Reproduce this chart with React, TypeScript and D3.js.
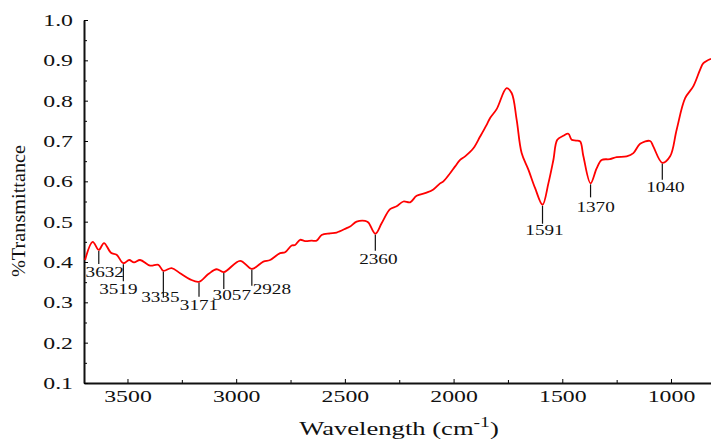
import React from 'react';
import * as d3 from "d3";

// spectrum (wavenumber cm-1 -> transmittance)
const wavenumbers = [
    3695, 3660, 3632, 3608, 3576, 3550, 3519, 3492, 3470, 3442, 3396, 3358, 3335, 3297, 3258,
    3212, 3171, 3128, 3090, 3057, 2982, 2928, 2875, 2844, 2798, 2775, 2745, 2729, 2706, 2683,
    2653, 2630, 2607, 2568, 2538, 2492, 2476, 2446, 2407, 2392, 2360, 2331, 2292, 2262, 2231,
    2200, 2170, 2124, 2093, 2062, 2047, 2016, 1993, 1970, 1947, 1909, 1878, 1848, 1832, 1802,
    1756, 1733, 1710, 1687, 1656, 1625, 1591, 1564, 1541, 1523, 1495, 1472, 1457, 1437, 1418,
    1403, 1370, 1342, 1319, 1281, 1250, 1204, 1173, 1142, 1096, 1081, 1040, 1004, 974, 935,
    897, 866, 851, 816
];
const transmittance = [
    0.405, 0.450, 0.430, 0.447, 0.423, 0.418, 0.397, 0.405, 0.399, 0.405, 0.391, 0.393, 0.378, 0.385, 0.372,
    0.357, 0.351, 0.370, 0.382, 0.375, 0.403, 0.383, 0.401, 0.405, 0.422, 0.424, 0.441, 0.442, 0.455, 0.452,
    0.453, 0.453, 0.467, 0.471, 0.473, 0.484, 0.488, 0.500, 0.502, 0.498, 0.470, 0.496, 0.531, 0.538, 0.550,
    0.548, 0.564, 0.572, 0.580, 0.595, 0.600, 0.620, 0.637, 0.653, 0.662, 0.682, 0.711, 0.740, 0.757, 0.779,
    0.831, 0.819, 0.753, 0.670, 0.629, 0.583, 0.542, 0.595, 0.653, 0.703, 0.713, 0.718, 0.703, 0.701, 0.699,
    0.662, 0.595, 0.632, 0.653, 0.655, 0.660, 0.662, 0.670, 0.693, 0.700, 0.686, 0.646, 0.662, 0.728, 0.806,
    0.836, 0.877, 0.893, 0.904
];

// labelled bands
const peakWavenumbers = [3632, 3519, 3335, 3171, 3057, 2928, 2360, 1591, 1370, 1040];
const peakValues = [0.430, 0.397, 0.378, 0.351, 0.375, 0.383, 0.470, 0.542, 0.595, 0.646];
const peakLabels = ["3632", "3519", "3335", "3171", "3057", "2928", "2360", "1591", "1370", "1040"];

// label layout (px): marker length, label shift x, label baseline below marker end
const peakLineLen = [13, 17, 26, 14, 16, 16, 16, 18, 13, 16];
const peakLabelDx = [6, -5, -3, 0, 8, 20, 3, 2, 5, 3];
const peakLabelDy = [13, 13, 4, 13, 11, 8, 13, 11, 15, 12];

const xMajorTicks = [3500, 3000, 2500, 2000, 1500, 1000];
const xMinorTicks = [3250, 2750, 2250, 1750, 1250];
const yMajorTicks = [0.1, 0.2, 0.3, 0.4, 0.5, 0.6, 0.7, 0.8, 0.9, 1.0];
const yMinorTicks = [0.15, 0.25, 0.35, 0.45, 0.55, 0.65, 0.75, 0.85, 0.95];

const FONT = "'Liberation Serif', 'Times New Roman', serif";
const STRETCH = 1.4; // the original type is drawn wide

class App extends React.Component {
    componentDidMount(): void {
        document.body.style.margin = "0";

        const width = 711;
        const height = 439;
        const left = 84, right = 711, top = 20, bottom = 383;

        const svg = d3.select("#ftir-chart")
            .append("svg")
            .attr("width", width)
            .attr("height", height)
            .style("display", "block")
            .style("background", "#fff");

        const xScale = d3.scaleLinear().domain([3700, 816]).range([left, right]);
        const yScale = d3.scaleLinear().domain([0.1, 1.0]).range([bottom, top]);

        //minor ticks
        svg.append("g")
            .attr("transform", "translate(0," + bottom + ")")
            .call(d3.axisBottom(xScale).tickValues(xMinorTicks).tickFormat(() => "").tickSize(-3).tickSizeOuter(0))
            .call((g: any) => g.select(".domain").remove());
        svg.append("g")
            .attr("transform", "translate(" + left + ",0)")
            .call(d3.axisLeft(yScale).tickValues(yMinorTicks).tickFormat(() => "").tickSize(-3).tickSizeOuter(0))
            .call((g: any) => g.select(".domain").remove());

        //major axes
        const xAxis = svg.append("g")
            .attr("transform", "translate(0," + bottom + ")")
            .call(d3.axisBottom(xScale).tickValues(xMajorTicks).tickFormat(d3.format("d")).tickSize(-4).tickSizeOuter(0).tickPadding(7));
        const yAxis = svg.append("g")
            .attr("transform", "translate(" + left + ",0)")
            .call(d3.axisLeft(yScale).tickValues(yMajorTicks).tickFormat(d3.format(".1f")).tickSize(-4).tickSizeOuter(0));

        [xAxis, yAxis].forEach(ax => {
            ax.select(".domain").attr("stroke-width", 2).attr("stroke", "#111");
            ax.selectAll("text")
                .attr("font-family", FONT)
                .attr("font-size", 17)
                .attr("fill", "#111");
        });
        xAxis.selectAll("text").attr("transform", `scale(${STRETCH},1)`);
        yAxis.selectAll("text")
            .attr("x", -11 / STRETCH)
            .attr("transform", `scale(${STRETCH},1)`);

        //spectrum
        const line = d3.line<number>()
            .x((d, i) => xScale(wavenumbers[i]))
            .y(d => yScale(d))
            .curve(d3.curveCatmullRom.alpha(0.5));

        svg.append("path")
            .datum(transmittance)
            .attr("d", line)
            .attr("fill", "none")
            .attr("stroke", "#ff0000")
            .attr("stroke-width", 1.8);

        //band markers
        const peaks = svg.append("g");
        peakWavenumbers.forEach((wn, i) => {
            const px = xScale(wn);
            const py = yScale(peakValues[i]) + 1;
            peaks.append("line")
                .attr("x1", px).attr("x2", px)
                .attr("y1", py).attr("y2", py + peakLineLen[i])
                .attr("stroke", "#111")
                .attr("stroke-width", 1.2);
            peaks.append("g")
                .attr("transform", `translate(${px + peakLabelDx[i]},${py + peakLineLen[i] + peakLabelDy[i]}) scale(1.37,1)`)
                .append("text")
                .attr("text-anchor", "middle")
                .attr("font-family", FONT)
                .attr("font-size", 14)
                .attr("fill", "#111")
                .text(peakLabels[i]);
        });

        //axis titles
        const xTitle = svg.append("g")
            .attr("transform", `translate(399,435) scale(${STRETCH},1)`)
            .append("text")
            .attr("text-anchor", "middle")
            .attr("font-family", FONT)
            .attr("font-size", 19)
            .attr("fill", "#111");
        xTitle.append("tspan").text("Wavelength (cm");
        xTitle.append("tspan").attr("dy", -8).attr("font-size", 14).text("-1");
        xTitle.append("tspan").attr("dy", 8).text(")");

        svg.append("text")
            .attr("transform", "translate(25,211) rotate(-90)")
            .attr("text-anchor", "middle")
            .attr("font-family", FONT)
            .attr("font-size", 19)
            .attr("textLength", 132)
            .attr("lengthAdjust", "spacingAndGlyphs")
            .attr("fill", "#111")
            .text("%Transmittance");
    }

    render() {
        return (
            <div id={"ftir-chart"}></div>
        );
    }
}

export default App;
